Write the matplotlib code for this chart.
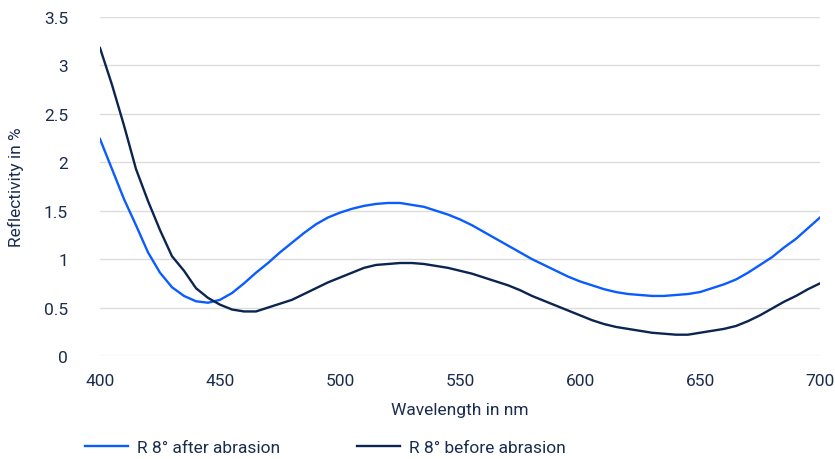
import numpy as np
import matplotlib.pyplot as plt

plt.rcParams['font.family'] = ['Roboto', 'DejaVu Sans']

wavelength = list(range(400, 705, 5))

after_abrasion = [2.24, 1.93, 1.62, 1.35, 1.07, 0.86, 0.71, 0.62, 0.565, 0.55,
                  0.58, 0.65, 0.75, 0.86, 0.96, 1.07, 1.17, 1.27, 1.36, 1.43,
                  1.48, 1.52, 1.55, 1.57, 1.58, 1.58, 1.56, 1.54, 1.50, 1.46,
                  1.41, 1.35, 1.28, 1.21, 1.14, 1.07, 1.00, 0.94, 0.88, 0.82,
                  0.77, 0.73, 0.69, 0.66, 0.64, 0.63, 0.62, 0.62, 0.63, 0.64,
                  0.66, 0.70, 0.74, 0.79, 0.86, 0.94, 1.02, 1.12, 1.21, 1.32,
                  1.43]

before_abrasion = [3.18, 2.80, 2.38, 1.93, 1.60, 1.30, 1.03, 0.88, 0.70, 0.60,
                   0.53, 0.48, 0.46, 0.46, 0.50, 0.54, 0.58, 0.64, 0.70, 0.76,
                   0.81, 0.86, 0.91, 0.94, 0.95, 0.96, 0.96, 0.95, 0.93, 0.91,
                   0.88, 0.85, 0.81, 0.77, 0.73, 0.68, 0.62, 0.57, 0.52, 0.47,
                   0.42, 0.37, 0.33, 0.30, 0.28, 0.26, 0.24, 0.23, 0.22, 0.22,
                   0.24, 0.26, 0.28, 0.31, 0.36, 0.42, 0.49, 0.56, 0.62, 0.69,
                   0.75]

y_ticks = [0, 0.5, 1, 1.5, 2, 2.5, 3, 3.5]
y_labels = ['0', '0.5', '1', '1.5', '2', '2.5', '3', '3.5']
x_ticks = [400, 450, 500, 550, 600, 650, 700]

text_col = '#1b2d4f'
blue = '#0a5cff'
navy = '#0b2450'
fs = 12.5

fig = plt.figure(figsize=(8.35, 4.6), dpi=100)
ax = fig.add_axes([100 / 835, 1 - 357 / 460, 720 / 835, 339 / 460])

ax.plot(wavelength, after_abrasion, color=blue, lw=1.7, label='R 8° after abrasion')
ax.plot(wavelength, before_abrasion, color=navy, lw=1.7, label='R 8° before abrasion')

ax.set_xlim(400, 700)
ax.set_ylim(0, 3.5)
ax.set_yticks(y_ticks)
ax.set_yticklabels(y_labels)
ax.set_xticks(x_ticks)
ax.grid(axis='y', color='#dcdcdc', lw=1)
ax.set_axisbelow(True)
for s in ax.spines.values():
    s.set_visible(False)
ax.tick_params(length=0, colors=text_col, labelsize=fs)
ax.tick_params(axis='y', pad=23)
ax.tick_params(axis='x', pad=12)

ax.set_xlabel('Wavelength in nm', color=text_col, fontsize=fs, labelpad=10)
ax.set_ylabel('Reflectivity in %', color=text_col, fontsize=fs, labelpad=14)

leg = fig.legend(loc='center left', bbox_to_anchor=(85 / 835, 1 - 448 / 460), ncol=2,
                 frameon=False, fontsize=fs, handlelength=2.5, columnspacing=4.4,
                 handletextpad=0.5, borderpad=0, borderaxespad=0)
for t in leg.get_texts():
    t.set_color(text_col)

fig.savefig('out.png', dpi=100)
